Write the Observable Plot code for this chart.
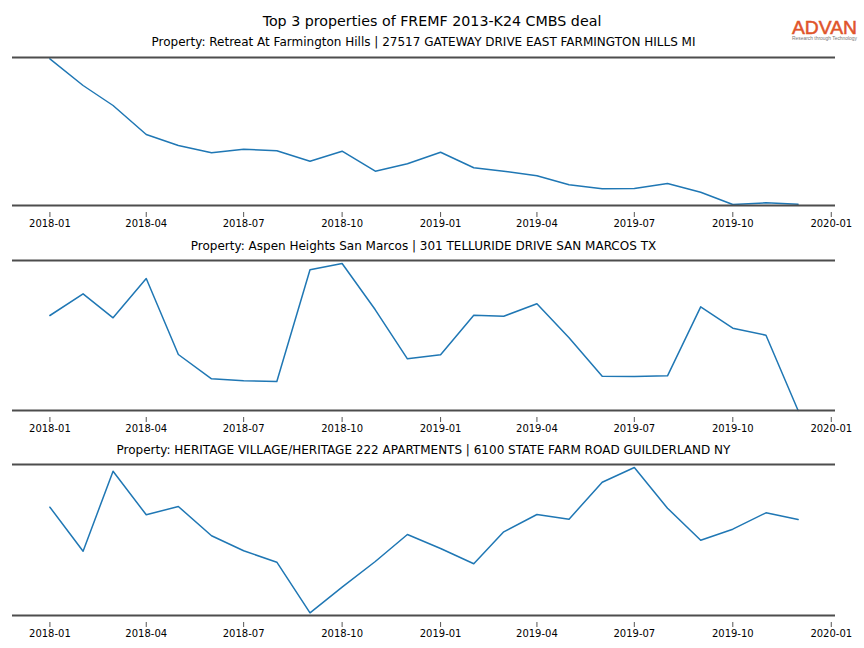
<!DOCTYPE html>
<html><head><meta charset="utf-8">
<script src="https://cdn.jsdelivr.net/npm/d3@7"></script>
<script src="https://cdn.jsdelivr.net/npm/@observablehq/plot@0.6"></script>
<style>
body{margin:0;background:#fff;font-family:"DejaVu Sans",sans-serif;}
#root{position:relative;width:864px;height:648px;overflow:hidden;background:#fff;}
.t{position:absolute;color:#000;white-space:nowrap;display:inline-block;}
.p{position:absolute;left:0;}
</style></head><body><div id="root"></div>
<script>
const months = ["2018-01","2018-02","2018-03","2018-04","2018-05","2018-06","2018-07","2018-08","2018-09","2018-10","2018-11","2018-12",
                "2019-01","2019-02","2019-03","2019-04","2019-05","2019-06","2019-07","2019-08","2019-09","2019-10","2019-11","2019-12"];
const retreat  = [146.7,120,100,71,60,52.7,56.3,54.7,44.3,54.3,34.3,41.7,53.3,37.7,34.3,29.7,20.7,16.7,17,22,13.3,1,2.7,1.3];
const aspen    = [95,116.7,92.7,132,56,31.7,29.7,29,140.7,147,100.7,51.7,55.7,95.3,94.3,106.7,72.7,34.3,34,34.7,103.7,82.3,75.3,0];
const heritage = [108.3,64.3,144.3,100.7,109,79.7,64.7,53.3,2.7,28.3,54,81,67,51.7,83.7,101,96.3,133.3,148,107.3,75.3,86.3,102.7,96];
const mainTitle = "Top 3 properties of FREMF 2013-K24 CMBS deal";
const panelTitles = [
  "Property: Retreat At Farmington Hills | 27517 GATEWAY DRIVE EAST FARMINGTON HILLS MI",
  "Property: Aspen Heights San Marcos | 301 TELLURIDE DRIVE SAN MARCOS TX",
  "Property: HERITAGE VILLAGE/HERITAGE 222 APARTMENTS | 6100 STATE FARM ROAD GUILDERLAND NY"
];
const tickLabels = ["2018-01","2018-04","2018-07","2018-10","2019-01","2019-04","2019-07","2019-10","2020-01"];
const yMax = [148, 150, 151];

const root = document.getElementById("root");
const parse = d3.utcParse("%Y-%m");
const dates = months.map(parse);
const tickDates = tickLabels.map(parse);
const span = dates[dates.length-1] - dates[0];
const xDomain = [new Date(+dates[0] - 0.05*span), new Date(+dates[dates.length-1] + 0.05*span)];

function addText(txt, top, size, center, fitWidth){
  const d = document.createElement("span");
  d.className = "t";
  d.style.top = top + "px";
  d.style.fontSize = size + "px";
  d.style.lineHeight = (size+2) + "px";
  d.textContent = txt;
  root.appendChild(d);
  let w = d.getBoundingClientRect().width;
  if (fitWidth) {
    const s = size * fitWidth / w;
    d.style.fontSize = s + "px";
    w = d.getBoundingClientRect().width;
  }
  d.style.left = (center - w/2) + "px";
}
addText(mainTitle, 12.5, 14, 432, 339);

const series = [retreat, aspen, heritage];
const spineTops = [57, 260, 464];
const titleCenters = [42, 246, 450];
const mt = 4, mb = 30;
series.forEach((vals, i) => {
  addText(panelTitles[i], titleCenters[i] - 7, 12, 423.5);
  const data = vals.map((v, j) => ({date: dates[j], value: v}));
  const h = yMax[i];
  const chart = Plot.plot({
    width: 864, height: mt + h + mb,
    marginLeft: 12, marginRight: 29, marginTop: mt, marginBottom: mb,
    style: {fontFamily: "DejaVu Sans", fontSize: "10px", background: "transparent", color: "#000"},
    x: {type: "utc", domain: xDomain, axis: null},
    y: {domain: [0, h], axis: null},
    marks: [
      Plot.line(data, {x: "date", y: "value", stroke: "#1f77b4", strokeWidth: 1.5}),
      Plot.ruleY([0, h], {stroke: "#4d4d4d", strokeWidth: 2}),
      Plot.axisX({ticks: tickDates, tickFormat: d3.utcFormat("%Y-%m"), tickSize: 5, tickPadding: 2, dy: 7, stroke: "#555", fill: "#000", fontSize: 10, label: null})
    ]
  });
  chart.classList.add("p");
  chart.style.top = (spineTops[i] - mt) + "px";
  root.appendChild(chart);
});

// logo
const logo = document.createElementNS("http://www.w3.org/2000/svg", "svg");
logo.setAttribute("width", 70); logo.setAttribute("height", 30);
logo.style.position = "absolute"; logo.style.left = "790px"; logo.style.top = "16px";
logo.innerHTML = '<text x="2" y="17.5" font-family="Liberation Sans, Arial" font-size="18" fill="#e0542a" stroke="#e0542a" stroke-width="0.5" textLength="65" lengthAdjust="spacingAndGlyphs">ADVAN</text>' +
  '<text x="2" y="24" font-family="Liberation Sans, Arial" font-size="4.6" fill="#777" textLength="65" lengthAdjust="spacingAndGlyphs">Research through Technology</text>';
root.appendChild(logo);
</script>
</body></html>
